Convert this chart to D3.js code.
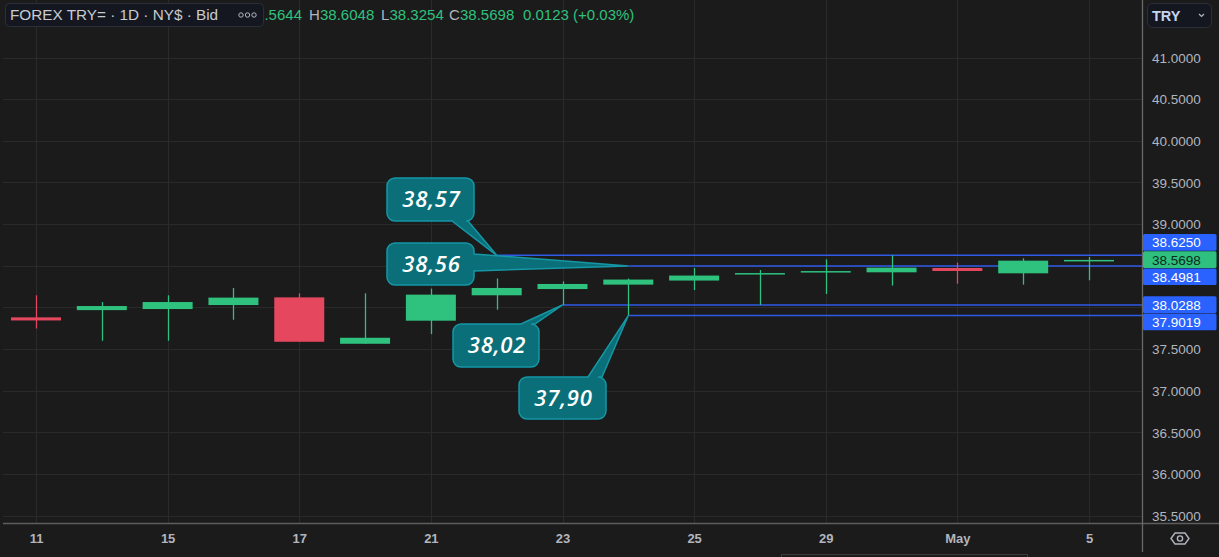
<!DOCTYPE html>
<html><head><meta charset="utf-8">
<script src="https://cdn.jsdelivr.net/npm/d3@7"></script>
<style>html,body{margin:0;padding:0;background:#1b1b1b;overflow:hidden}</style>
</head><body><svg id="c" width="1219" height="557"></svg>
<script>
// ---------- data ----------
const dates = ["2025-04-11","2025-04-14","2025-04-15","2025-04-16","2025-04-17","2025-04-18","2025-04-21","2025-04-22","2025-04-23","2025-04-24","2025-04-25","2025-04-28","2025-04-29","2025-04-30","2025-05-01","2025-05-02","2025-05-05"];
const opens  = [37.880,37.967,37.980,38.028,38.120,37.563,37.840,38.145,38.220,38.273,38.322,38.405,38.430,38.421,38.473,38.409,38.5644];
const highs  = [38.145,38.064,38.145,38.233,38.169,38.169,38.225,38.346,38.313,38.346,38.473,38.449,38.577,38.625,38.537,38.589,38.6048];
const lows   = [37.747,37.599,37.599,37.852,37.587,37.563,37.678,37.972,38.0288,37.9019,38.208,38.030,38.161,38.261,38.284,38.273,38.3254];
const closes = [37.843,38.016,38.064,38.117,37.587,37.635,38.153,38.233,38.281,38.334,38.382,38.412,38.436,38.477,38.437,38.561,38.5698];
const xTickDates  = ["2025-04-11","2025-04-15","2025-04-17","2025-04-21","2025-04-23","2025-04-25","2025-04-29","2025-05-01","2025-05-05"];
const xTickLabels = ["11","15","17","21","23","25","29","May","5"];
const yTicks = [35.5,36.0,36.5,37.0,37.5,38.0,38.5,39.0,39.5,40.0,40.5,41.0];
const rayValues   = [38.625,38.4981,38.0288,37.9019];
const rayStartIdx = [7,9,8,9];
const priceLabelValues = [38.625,38.5698,38.4981,38.0288,37.9019];
const priceLabelIsLast = [false,true,false,false,false];
const calloutTexts   = ["38,57","38,56","38,02","37,90"];
const calloutDateIdx = [7,9,8,9];
const calloutValues  = [38.625,38.4981,38.0288,37.9019];
const headerTitle = "FOREX TRY= · 1D · NY$ · Bid";
const ohlcKeys = ["O","H","L","C"];
const ohlcVals = ["38.5644","38.6048","38.3254","38.5698"];
const changeText = "0.0123 (+0.03%)";

// ---------- layout / style ----------
const W = 1219, H = 557;
const plotRight = 1142.5, axisY = 523.5;
const GREEN = "#2ec27e", RED = "#e5475f", BLUE = "#2962ff";
const GRID = "#2a2a2a", TXT = "#b2b5be";
const FONT = "'Liberation Sans', Arial, sans-serif";
const calloutLayout = [
  {b:[387,178,474,221], edge:"bottom", p0:452, p1:468},
  {b:[387,243,474,285], edge:"right",  p0:254, p1:271},
  {b:[453,324,539,367], edge:"top",    p0:521, p1:535},
  {b:[519,377,606,419], edge:"top",    p0:588, p1:602}
];

const svg = d3.select("#c");
svg.append("rect").attr("width",W).attr("height",H).attr("fill","#1b1b1b");

const x = d3.scalePoint().domain(dates).range([36, 1089]);
const y = d3.scaleLinear().domain([35.5, 41]).range([515.6, 57.5]);
const py = v => Math.round(y(v)) + 0.5;

// grid
const grid = svg.append("g").attr("shape-rendering","crispEdges");
grid.selectAll("line.h").data(yTicks).join("line")
  .attr("x1",3).attr("x2",plotRight).attr("y1",py).attr("y2",py)
  .attr("stroke",GRID).attr("stroke-width",1);
grid.selectAll("line.v").data(xTickDates).join("line")
  .attr("x1",d=>Math.round(x(d))+0.5).attr("x2",d=>Math.round(x(d))+0.5).attr("y1",0).attr("y2",axisY)
  .attr("stroke",GRID).attr("stroke-width",1);

// rays
svg.append("g").selectAll("line").data(rayValues).join("line")
  .attr("x1",(d,i)=>x(dates[rayStartIdx[i]])).attr("x2",plotRight)
  .attr("y1",d=>y(d)).attr("y2",d=>y(d))
  .attr("stroke","#2f5be8").attr("stroke-width",1.5);

// candles
const bw = 50;
const cg = svg.append("g");
dates.forEach((d,i)=>{
  const up = closes[i] >= opens[i];
  const col = up ? GREEN : RED;
  const cx = Math.round(x(d)) + 0.5;
  cg.append("line").attr("x1",cx).attr("x2",cx).attr("y1",y(highs[i])).attr("y2",y(lows[i]))
    .attr("stroke",col).attr("stroke-width",1.3);
  const top = y(Math.max(opens[i],closes[i]));
  const bot = y(Math.min(opens[i],closes[i]));
  const h = Math.max(1.5, bot-top);
  cg.append("rect").attr("x",x(d)-bw/2).attr("y",top).attr("width",bw).attr("height",h)
    .attr("fill",col);
});

// callouts
function calloutPath(L, tip){
  const [x0,y0,x1,y1] = L.b, r = 8;
  let p = `M${x0+r},${y0}`;
  if(L.edge==="top") p += `L${L.p0},${y0}L${tip[0]},${tip[1]}L${L.p1},${y0}`;
  p += `L${x1-r},${y0}A${r},${r} 0 0 1 ${x1},${y0+r}`;
  if(L.edge==="right") p += `L${x1},${L.p0}L${tip[0]},${tip[1]}L${x1},${L.p1}`;
  p += `L${x1},${y1-r}A${r},${r} 0 0 1 ${x1-r},${y1}`;
  if(L.edge==="bottom") p += `L${L.p1},${y1}L${tip[0]},${tip[1]}L${L.p0},${y1}`;
  p += `L${x0+r},${y1}A${r},${r} 0 0 1 ${x0},${y1-r}L${x0},${y0+r}A${r},${r} 0 0 1 ${x0+r},${y0}Z`;
  return p;
}
const co = svg.append("g");
calloutTexts.forEach((t,i)=>{
  const L = calloutLayout[i];
  const tip = [x(dates[calloutDateIdx[i]]), y(calloutValues[i])];
  co.append("path").attr("d",calloutPath(L,tip)).attr("fill","#0a6f78").attr("stroke","#1597a6").attr("stroke-width",1.5);
  co.append("text").attr("x",(L.b[0]+L.b[2])/2+1).attr("y",(L.b[1]+L.b[3])/2).attr("dy","0.36em")
    .attr("text-anchor","middle").attr("fill","#ffffff").attr("font-family","'Open Sans', sans-serif")
    .attr("font-style","italic").attr("font-weight",600).attr("font-size",22).attr("letter-spacing",0.8).text(t);
});

// separators
svg.append("line").attr("x1",3).attr("x2",W).attr("y1",axisY).attr("y2",axisY).attr("stroke","#5e5e5e").attr("stroke-width",1.5);
svg.append("line").attr("x1",plotRight).attr("x2",plotRight).attr("y1",0).attr("y2",552).attr("stroke","#6a6a6a").attr("stroke-width",1.3);

// price labels with overlap resolution
const lh = 17.2;
const pl = priceLabelValues.map((v,i)=>({v, last:priceLabelIsLast[i], yc:y(v)})).sort((a,b)=>a.yc-b.yc);
const ai = pl.findIndex(d=>d.last);
for(let i=ai-1;i>=0;i--) pl[i].yc = Math.min(pl[i].yc, pl[i+1].yc - lh);
for(let i=ai+1;i<pl.length;i++) pl[i].yc = Math.max(pl[i].yc, pl[i-1].yc + lh);

// y axis (tick labels hidden where a price label covers them)
const covered = v => pl.some(d => Math.abs(y(v) - d.yc) < lh);
const yAxis = svg.append("g").attr("transform",`translate(1152,0)`)
  .call(d3.axisRight(y).tickValues(yTicks.filter(v=>!covered(v))).tickFormat(d3.format(".4f")).tickSize(0).tickPadding(0));
yAxis.select(".domain").remove();
yAxis.selectAll("text").attr("fill",TXT).attr("font-family",FONT).attr("font-size",13.5).attr("x",0).attr("dy","0.35em");

const plg = svg.append("g");
pl.forEach(d=>{
  plg.append("rect").attr("x",1143).attr("y",d.yc-lh/2).attr("width",73.5).attr("height",lh-0.6).attr("rx",1.5)
    .attr("fill", d.last ? "#2fbf7e" : BLUE);
  plg.append("text").attr("x",1152).attr("y",d.yc).attr("dy","0.34em").attr("font-family",FONT).attr("font-size",13.5)
    .attr("fill", d.last ? "#0c2a1c" : "#ffffff").text(d3.format(".4f")(d.v));
});

// x axis
const xAxis = svg.append("g").attr("transform",`translate(0,${axisY})`)
  .call(d3.axisBottom(x).tickValues(xTickDates).tickFormat((d,i)=>xTickLabels[i]).tickSize(0).tickPadding(0));
xAxis.select(".domain").remove();
xAxis.selectAll("text").attr("fill",TXT).attr("font-family",FONT).attr("font-size",13).attr("font-weight","bold").attr("y",19).attr("dy","0");

// settings icon
const ic = svg.append("g").attr("transform","translate(1180,538.5)").attr("fill","none").attr("stroke",TXT).attr("stroke-width",1.4);
ic.append("path").attr("d","M-9,0L-5,-5.5L5,-5.5L9,0L5,5.5L-5,5.5Z");
ic.append("circle").attr("r",2.6);

// bottom scrollbar hint
svg.append("rect").attr("x",781.5).attr("y",554.5).attr("width",246).attr("height",6).attr("fill","none").attr("stroke","#3a3a3a");

// header: OHLC readout (partly hidden by the title box, as in the reference)
const hd = svg.append("g");
const keyX = [226, 309, 381, 449];
const valX = [302, 320, 389.5, 460];
const valAnchor = ["end","start","start","start"];
ohlcKeys.forEach((k,i)=>{
  hd.append("text").attr("x",keyX[i]).attr("y",20).attr("font-family",FONT).attr("font-size",15).attr("fill",TXT).text(k);
  hd.append("text").attr("x",valX[i]).attr("y",20).attr("text-anchor",valAnchor[i]).attr("font-family",FONT).attr("font-size",15).attr("fill",GREEN).text(ohlcVals[i]);
});
hd.append("text").attr("x",523).attr("y",20).attr("font-family",FONT).attr("font-size",15).attr("fill",GREEN).text(changeText);
hd.append("rect").attr("x",5.5).attr("y",3.5).attr("width",258).attr("height",23).attr("rx",4).attr("fill","#141720").attr("stroke","#2b2f3a");
hd.append("text").attr("x",10).attr("y",20).attr("font-family",FONT).attr("font-size",15.3).attr("fill","#c9cbd0").text(headerTitle);
[241,247.5,254].forEach(cx=>hd.append("circle").attr("cx",cx).attr("cy",15).attr("r",2.2).attr("fill","none").attr("stroke","#b2b5be").attr("stroke-width",1));

// currency button
svg.append("rect").attr("x",1147.5).attr("y",3.5).attr("width",64).attr("height",24).attr("rx",5).attr("fill","#141720").attr("stroke","#2b2f3a");
svg.append("text").attr("x",1152).attr("y",21).attr("font-family",FONT).attr("font-size",14.5).attr("font-weight","bold").attr("fill","#c6d4f0").text("TRY");
svg.append("path").attr("d","M1199,14L1201.5,16.5L1204,14").attr("fill","none").attr("stroke","#b2b5be").attr("stroke-width",1.2);
</script></body></html>
